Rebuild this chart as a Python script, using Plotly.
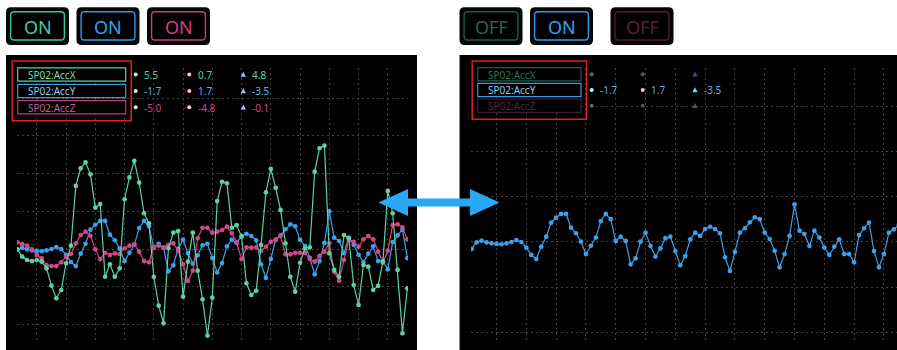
import plotly.graph_objects as go

W, H = 897, 350

# Accelerometer stream, one value per sample (sample index 0..86)
ACC_Y = [-0.46, -0.02, 0.09, -0.02, -0.09, -0.13, -0.15, -0.09, 0.00, 0.13,
         0.00, -0.38, -0.86, -1.13, -0.31, 0.35, 1.28, 1.61, 1.86, 1.86,
         0.95, 0.58, 0.02, -0.80, -0.25, 0.29, 1.39, 1.86, 1.51, 0.07,
         0.35, 0.07, -1.48, -1.08, 0.02, 0.62, -0.27, -0.97, -0.42, 0.25,
         0.35, -0.60, -1.55, -0.93, 0.18, 0.62, 0.40, 0.86, 1.01, 0.86,
         0.58, -1.01, -1.92, -0.66, 0.62, 0.91, 1.31, 1.64, 1.51, 0.62,
         0.20, -0.58, -1.68, -0.80, 0.40, 2.50, 0.75, 0.53, -0.27, 0.75,
         0.29, -0.38, -0.86, -0.31, 0.18, -0.80, -0.80, -1.35, 0.46, 0.91,
         1.28, -0.60, -1.68, -0.80, 0.62, 0.84, 1.13]

# samples 1..81
ACC_X = [-0.02, -0.51, -0.73, -0.80, -0.73, -0.84, -1.28, -2.43, -3.27, -2.72,
         -0.95, 0.22, 4.18, 5.35, 5.75, 4.95, 2.74, 2.98, -1.84, -1.01,
         -1.84, -1.28, 3.30, 4.75, 5.84, 4.40, 2.37, 1.70, -1.84, -3.76,
         -4.93, 0.05, 1.08, 1.19, -3.16, -0.84, 1.08, -1.44, -3.34, -5.75,
         -3.23, 3.18, 4.46, 4.36, 1.41, 1.59, 0.82, -2.27, -3.05, -2.77,
         0.27, 3.76, 5.31, 4.06, 2.59, 0.38, -1.84, -2.83, -0.91, 0.05,
         0.11, 5.13, 6.68, 6.85, -0.29, -1.39, -1.84, 0.93, 0.71, -2.39,
         -3.71, -1.06, -1.17, -2.72, -2.45, -0.84, 3.85, 2.37, -1.39, -5.59,
         -2.61]

ACC_Z = [0.44, 0.33, 0.22, -0.02, -0.40, -0.62, -1.06, -1.13, -1.13, -0.88,
         -0.51, -0.33, 0.38, 0.93, 1.15, 0.88, -0.02, -0.68, -0.25, -0.40,
         -0.29, -0.33, 0.05, 0.22, 0.31, -0.18, -0.80, -0.88, 0.15, 0.22,
         0.11, 0.27, 0.38, -0.13, -1.01, -2.12, -1.44, 0.71, 1.41, 1.41,
         1.08, 1.15, 1.26, 1.48, 1.04, 0.42, -0.68, 0.11, 0.09, 0.11,
         -0.13, 0.15, 0.48, 0.60, 0.86, -0.35, -0.35, -0.25, -0.25, -0.25,
         -0.66, -0.84, -0.46, -0.18, 0.38, -1.51, -2.10, -0.73, 0.60, 0.48,
         0.15, 0.64, 0.86, 0.64, -0.18, -0.91, -0.11, 1.59, 1.64, 1.44,
         0.64]

SAMPLES_Y = list(range(len(ACC_Y)))
SAMPLES_XZ = list(range(1, len(ACC_X) + 1))

SERIES = ["SP02:AccX", "SP02:AccY", "SP02:AccZ"]
READ_A = ["5.5", "-1.7", "-5.0"]
READ_B = ["0.7", "1.7", "-4.8"]
READ_C = ["4.8", "-3.5", "-0.1"]

GREEN = "#5fd1a0"
BLUE = "#3fa0ea"
PINK = "#d0478a"
FONT = "Noto Sans"


def px(x):
    return x / W


def py(y):
    return 1 - y / H


def rrect_path(x0, y0, x1, y1, r):
    pts = [
        ("M", x0 + r, y0), ("L", x1 - r, y0), ("Q", x1, y0, x1, y0 + r),
        ("L", x1, y1 - r), ("Q", x1, y1, x1 - r, y1), ("L", x0 + r, y1),
        ("Q", x0, y1, x0, y1 - r), ("L", x0, y0 + r), ("Q", x0, y0, x0 + r, y0),
    ]
    out = []
    for p in pts:
        cmd, coords = p[0], p[1:]
        s = cmd
        for i in range(0, len(coords), 2):
            s += f" {px(coords[i]):.5f},{py(coords[i + 1]):.5f}"
        out.append(s)
    return " ".join(out) + " Z"


shapes = []
annotations = []


def rect(x0, y0, x1, y1, fill=None, line=None, lw=1, layer="above"):
    shapes.append(dict(type="rect", xref="paper", yref="paper",
                       x0=px(x0), x1=px(x1), y0=py(y1), y1=py(y0),
                       fillcolor=fill or "rgba(0,0,0,0)",
                       line=dict(color=line or "rgba(0,0,0,0)", width=lw if line else 0),
                       layer=layer))


def text(x, y, s, color, size, anchor="left", family=FONT):
    annotations.append(dict(xref="paper", yref="paper", x=px(x), y=py(y), text=s,
                            showarrow=False, xanchor=anchor, yanchor="middle",
                            font=dict(family=family, size=size, color=color)))


# panel backgrounds
rect(6, 55, 417, 351, fill="#000000", layer="below")
rect(459, 55, 898, 351, fill="#000000", layer="below")
shapes.append(dict(type="line", xref="paper", yref="paper", x0=px(459.5), x1=px(459.5),
                   y0=py(55), y1=py(350), line=dict(color="#8a8a8a", width=1), layer="above"))


# toggle buttons
def button(x0, label, color, txt_color):
    shapes.append(dict(type="path", xref="paper", yref="paper",
                       path=rrect_path(x0, 7.3, x0 + 63, 45, 5),
                       fillcolor="#050505", line=dict(width=0), layer="above"))
    shapes.append(dict(type="path", xref="paper", yref="paper",
                       path=rrect_path(x0 + 4.6, 11.8, x0 + 58.4, 40, 3.5),
                       fillcolor="#000000", line=dict(color=color, width=1.4), layer="above"))
    text(x0 + 31.5, 26.5, label, txt_color, 18, anchor="center")


button(6, "ON", "#34c79f", "#3fcfa6")
button(76.5, "ON", "#229ff0", "#2aa6f4")
button(147, "ON", "#c83a7a", "#d2417f")
button(459.5, "OFF", "#1d5a46", "#256650")
button(530, "ON", "#229ff0", "#2aa6f4")
button(610.5, "OFF", "#4a1b33", "#5c2140")


# series legend with readings
def legend(x0, y_rows, active, box_w, col_x):
    rect(x0 - 5.5, 61, x0 + box_w + 5.5, y_rows[2] + 13.5, line="#e01f1f", lw=1.5)
    styles = [
        (GREEN, "#7cdcb2", "#1f5e48", "#2c7459"),
        ("#3f97dd", "#8fcdf6", "#3f97dd", "#8fcdf6"),
        ("#b73c78", "#d45a93", "#47192f", "#5a2240"),
    ]
    row_txt = [GREEN, "#5aaeea", PINK]
    for i, name in enumerate(SERIES):
        yc = y_rows[i]
        on = active[i]
        bc, tc = (styles[i][0], styles[i][1]) if on else (styles[i][2], styles[i][3])
        rect(x0, yc - 6.6, x0 + box_w, yc + 6.6, fill="#000000", line=bc, lw=1.2)
        text(x0 + 8.5, yc + 0.3, name, tc, 10)
        c1, c2, c3 = col_x
        d1 = "#d6ecfb" if on else "#56687a"
        d2 = "#f6c3d8" if on else "#74495e"
        d3 = "#8ccdf6" if on else "#37587a"
        for cx, dc in ((c1, d1), (c2, d2)):
            shapes.append(dict(type="circle", xref="paper", yref="paper",
                               x0=px(cx - 2), x1=px(cx + 2), y0=py(yc + 2), y1=py(yc - 2),
                               fillcolor=dc, line=dict(width=0), layer="above"))
        shapes.append(dict(type="path", xref="paper", yref="paper",
                           path=f"M {px(c3 - 2.6):.5f},{py(yc + 2.2):.5f} L {px(c3 + 2.6):.5f},{py(yc + 2.2):.5f} "
                                f"L {px(c3):.5f},{py(yc - 2.8):.5f} Z",
                           fillcolor=d3, line=dict(width=0), layer="above"))
        if on:
            for cx, val in ((c1, READ_A[i]), (c2, READ_B[i]), (c3, READ_C[i])):
                text(cx + 6.5, yc + 0.3, val, row_txt[i], 10)


legend(17.7, [74.5, 91, 107.3], [True, True, True], 108, (135.7, 189.3, 243.3))
legend(477.7, [74.2, 90, 105.7], [False, True, False], 103.3, (591.7, 642.7, 695))

# double-headed arrow between the panels
ax = [(378.5, 202.5), (408, 189), (408, 198.5), (470, 198.5), (470, 189), (499.5, 202.5),
      (470, 216), (470, 206.5), (408, 206.5), (408, 216)]
shapes.append(dict(type="path", xref="paper", yref="paper",
                   path="M " + " L ".join(f"{px(a):.5f},{py(b):.5f}" for a, b in ax) + " Z",
                   fillcolor="#2aa8f8", line=dict(width=0), layer="above"))

fig = go.Figure()


def line_trace(xs, ys, color, xa, ya):
    return go.Scatter(x=xs, y=ys, mode="lines+markers", xaxis=xa, yaxis=ya,
                      line=dict(color=color, width=1.2),
                      marker=dict(color=color, size=4.7), showlegend=False,
                      hoverinfo="skip")


fig.add_trace(line_trace(SAMPLES_Y[1:82], ACC_Y[1:82], BLUE, "x", "y"))
fig.add_trace(line_trace(SAMPLES_XZ, ACC_Z, PINK, "x", "y"))
fig.add_trace(line_trace(SAMPLES_XZ, ACC_X, GREEN, "x", "y"))
fig.add_trace(line_trace(SAMPLES_Y, ACC_Y, "#3d9fe9", "x2", "y2"))

grid = dict(showgrid=True, gridcolor="#444444", griddash="2px,3px", gridwidth=1,
            zeroline=False, showline=False, showticklabels=False, ticks="")
ydom = [1 - 340 / H, 1 - 68 / H]

fig.update_layout(
    width=W, height=H, margin=dict(l=0, r=0, t=0, b=0),
    paper_bgcolor="#ffffff", plot_bgcolor="#000000",
    xaxis=dict(domain=[17 / W, 408 / W], range=[0.938, 81.14], tick0=5, dtick=6, **grid),
    yaxis=dict(domain=ydom, range=[-6.034, 12.003], tick0=0, dtick=2.5, **grid),
    xaxis2=dict(domain=[471 / W, 1.0], range=[-0.14, 85.63], tick0=5, dtick=6,
                anchor="y2", **grid),
    yaxis2=dict(domain=ydom, range=[-6.499, 11.538], tick0=0, dtick=3, anchor="x2", **grid),
    shapes=shapes, annotations=annotations,
)

fig.write_html("out.html")
